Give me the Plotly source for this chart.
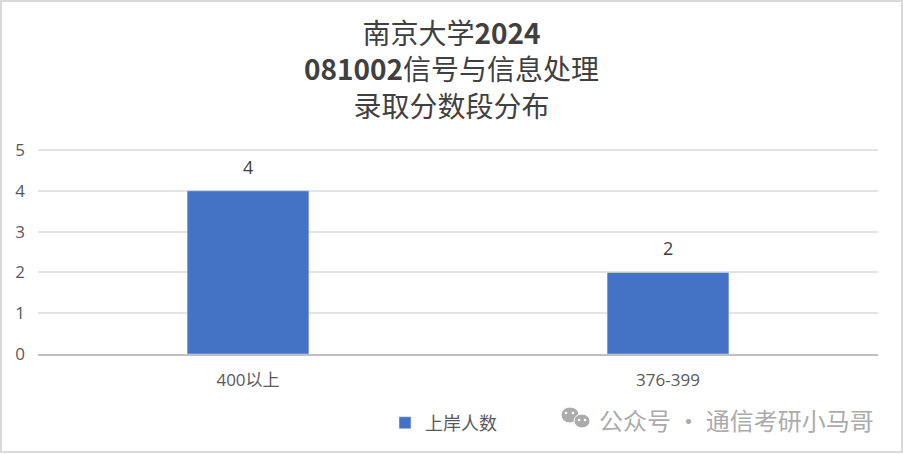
import plotly.graph_objects as go

categories = ["400以上", "376-399"]
values = [4, 2]
series_name = "上岸人数"
title_lines = ["南京大学<b>2024</b>", "<b>081002</b>信号与信息处理", "录取分数段分布"]
yticks = [0, 1, 2, 3, 4, 5]
watermark = "公众号 · 通信考研小马哥"

W, H = 903, 454
L, R, T, B = 38, 878, 148, 354
PW, PH = R - L, B - T
def px(x): return (x - L) / PW
def py(y): return (B - y) / PH

fig = go.Figure()
fig.add_trace(go.Bar(
    x=categories, y=values, name=series_name, width=0.29,
    marker=dict(color="#4472C4"), showlegend=True,
))
annotations = [dict(x=c, y=v, text=str(v), yref="y", xref="x", showarrow=False, yshift=24,
                    font=dict(family="Open Sans", size=18, color="#404040"))
               for c, v in zip(categories, values)]
annotations.append(dict(text=watermark, xref="paper", yref="paper", x=px(876), y=py(419),
                        xanchor="right", yanchor="middle", showarrow=False,
                        font=dict(family="Noto Sans CJK SC", size=24, color="#ABABAB")))

icon = []
for cx, cy, rx, ry in [(570, 415, 9, 8), (582, 421, 8, 7)]:
    icon.append(dict(type="circle", xref="paper", yref="paper", x0=px(cx-rx), x1=px(cx+rx),
                     y0=py(cy+ry), y1=py(cy-ry), fillcolor="#ABABAB", line=dict(color="white", width=1)))
for cx, cy in [(566, 413), (573, 413), (579, 420), (585, 420)]:
    icon.append(dict(type="circle", xref="paper", yref="paper", x0=px(cx-1.3), x1=px(cx+1.3),
                     y0=py(cy+1.3), y1=py(cy-1.3), fillcolor="white", line=dict(width=0)))

fig.update_layout(
    width=W, height=H, margin=dict(l=L, r=W-R, t=T, b=H-B),
    paper_bgcolor="white", plot_bgcolor="white",
    title=dict(text="<br>".join(title_lines), x=0.5, xanchor="center", xref="container",
               y=0.903, yanchor="middle",
               font=dict(family="Noto Sans CJK SC", size=28, color="#404040")),
    xaxis=dict(showline=True, linecolor="#BFBFBF", linewidth=2, ticks="", ticklabelstandoff=10,
               tickfont=dict(family="Open Sans, Noto Sans CJK SC", size=17, color="#595959")),
    yaxis=dict(range=[0, 5.05], tickvals=yticks, gridcolor="#E3E3E3", gridwidth=2, zeroline=False,
               ticklabelstandoff=12,
               tickfont=dict(family="Open Sans", size=17, color="#595959")),
    legend=dict(orientation="h", x=px(385), xanchor="left", y=py(423), yanchor="middle",
                font=dict(family="Noto Sans CJK SC", size=18, color="#595959")),
    shapes=[dict(type="rect", xref="paper", yref="paper", x0=px(1), x1=px(902), y0=py(452), y1=py(1),
                 line=dict(color="#D9D9D9", width=2))] + icon,
    annotations=annotations,
)
fig.write_html("out.html", config={"displayModeBar": False},
               post_script="document.body.style.margin='0';document.documentElement.style.overflow='hidden';")
